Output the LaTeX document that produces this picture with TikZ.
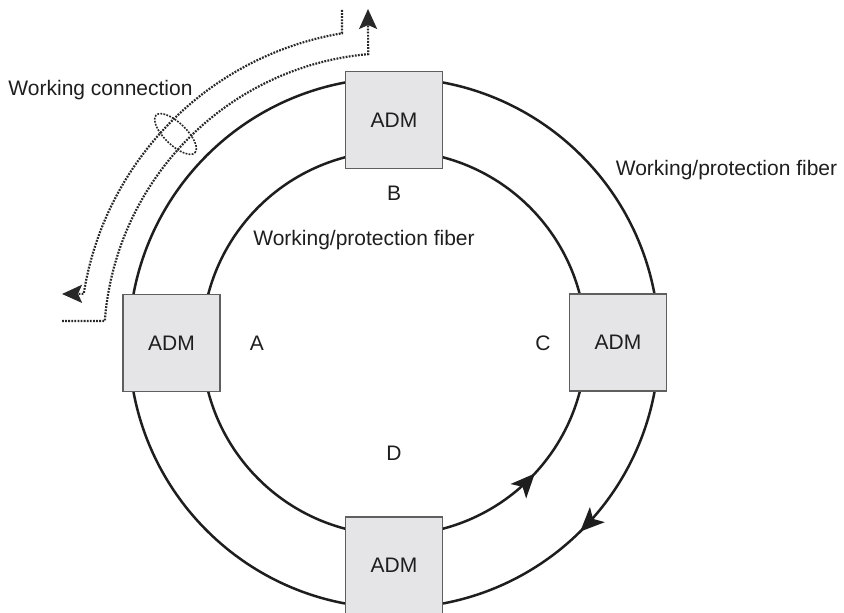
\documentclass[tikz,border=0pt]{standalone}
\usepackage{fontspec}
\setmainfont{Liberation Sans}
\usetikzlibrary{arrows.meta,decorations.markings,shapes.geometric}
\definecolor{ink}{RGB}{30,30,30}
\definecolor{boxfill}{RGB}{229,229,231}
\definecolor{boxline}{RGB}{95,95,95}
\definecolor{dotink}{RGB}{40,40,40}
\tikzset{
  lbl/.style={font=\fontsize{21}{25}\selectfont, text=ink, inner sep=0pt},
  admbox/.style={lbl, draw=boxline, line width=1.6pt, fill=boxfill, minimum width=97pt, minimum height=97pt},
  fiber/.style={draw=ink, line width=2.5pt},
  dotline/.style={draw=dotink, line width=2.2pt, dash pattern=on 1.8pt off 1.3pt},
}
\begin{document}
\begin{tikzpicture}[x=1pt,y=1pt]
\useasboundingbox (0,0) rectangle (844,613);
\coordinate (O) at (394,270);
% fibers
\draw[fiber, decoration={markings, mark=at position 0.881 with {\arrow[ink]{Stealth[length=24pt,width=21pt,inset=6pt]}}}, postaction={decorate}]
  (O) ++(0:192pt) arc[start angle=0, end angle=360, radius=192pt];
\draw[fiber, decoration={markings, mark=at position 0.874 with {\arrowreversed[ink]{Stealth[length=24pt,width=21pt,inset=6pt]}}}, postaction={decorate}]
  (O) ++(0:265pt) arc[start angle=0, end angle=360, radius=265pt];
% ADM boxes
\node[admbox] (A) at (171.5,270) {ADM};
\node[admbox] (B) at (394,493) {ADM};
\node[admbox] (C) at (618,270.5) {ADM};
\node[admbox] (D) at (394,47.5) {ADM};
% labels
\node[lbl] (la) at (257,270) {A};
\node[lbl] (lb) at (394,420) {B};
\node[lbl] (lc) at (543,270) {C};
\node[lbl] (ld) at (394,160) {D};
\node[lbl] (fin) at (364,373) {Working/protection fiber};
\node[lbl] (fout) at (726.5,443) {Working/protection fiber};
\node[lbl] (wc) at (100.5,523) {Working connection};
% working connection
\coordinate (w1s) at (342,603);
\coordinate (w1e) at (62,319);
\coordinate (w2s) at (62,292);
\coordinate (w2e) at (368,604);
\draw[dotline, -{Stealth[length=20pt,width=18pt,inset=4pt]}] (w1s) -- ++(0,-23.3) arc[start angle=99.5, end angle=171, radius=314pt] -- (w1e);
\draw[dotline, -{Stealth[length=20pt,width=18pt,inset=4pt]}] (w2s) -- (104.8,292) arc[start angle=175.65, end angle=95.1, radius=290pt] -- (w2e);
\node[dotline, line width=1.6pt, ellipse, minimum width=54pt, minimum height=22pt, rotate=-44, inner sep=0pt] (ring) at (175.5,479) {};
\end{tikzpicture}
\end{document}
